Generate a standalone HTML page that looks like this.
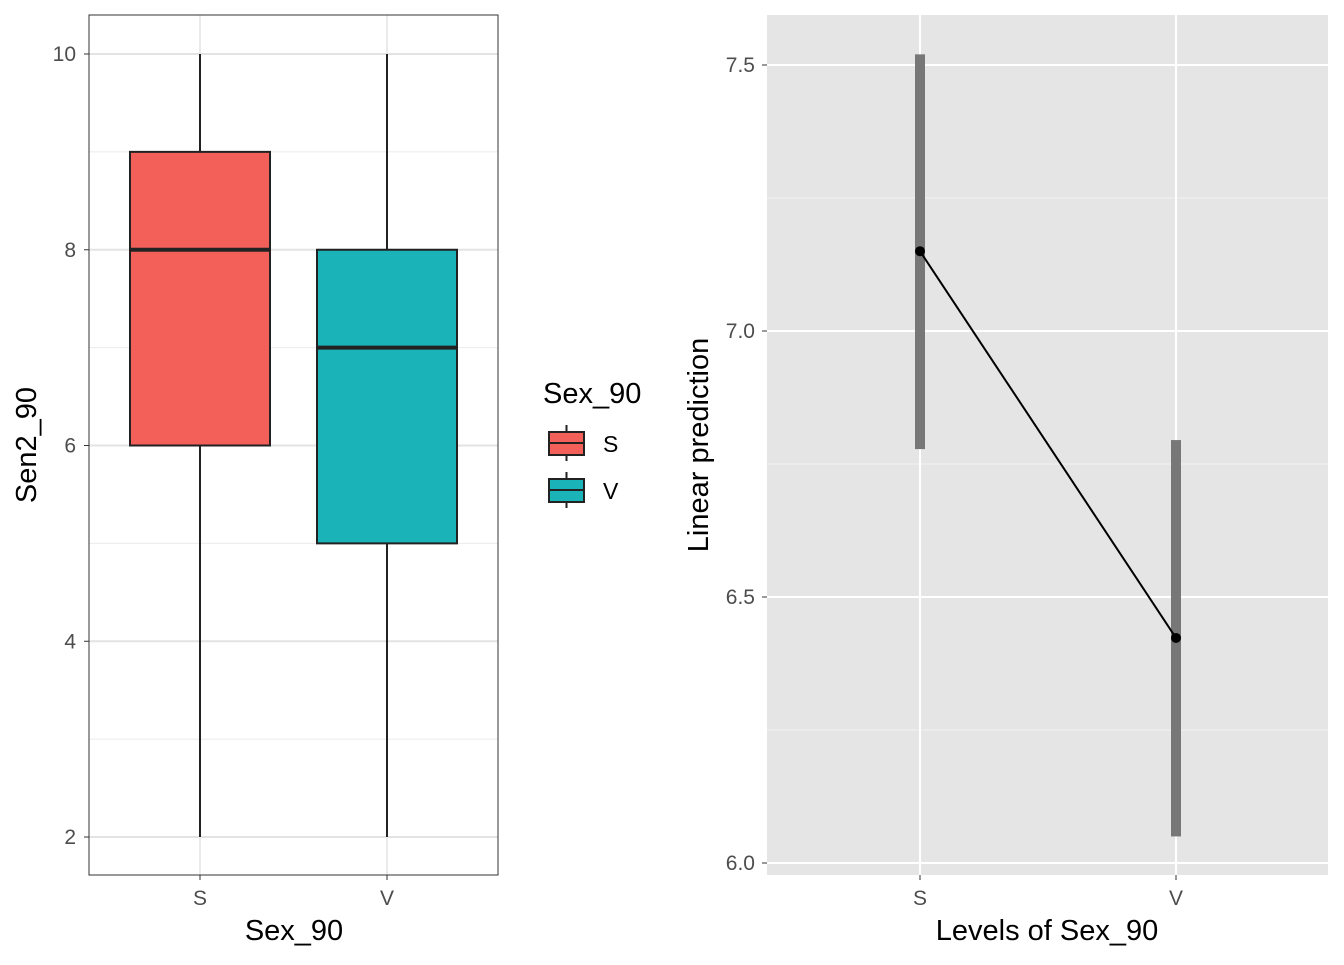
<!DOCTYPE html>
<html><head><meta charset="utf-8"><style>
body{margin:0;background:#fff;font-family:"Liberation Sans",Arial,sans-serif}
</style></head><body>
<svg id="c" width="1344" height="960" xmlns="http://www.w3.org/2000/svg" font-family="Liberation Sans, Arial, sans-serif"></svg>
<script>
const boxCats=["S","V"];
const boxMin=[2,2];
const boxQ1=[6,5];
const boxMed=[8,7];
const boxQ3=[9,8];
const boxMax=[10,10];
const boxFills=["#F3605A","#19B3B8"];
const leftTicks=[2,4,6,8,10];
const predCats=["S","V"];
const predVals=[7.15,6.423];
const predLo=[6.778,6.05];
const predHi=[7.52,6.795];
const rightTicks=[6.0,6.5,7.0,7.5];

const svg=document.getElementById('c');
const NS="http://www.w3.org/2000/svg";
function el(t,a,p){const e=document.createElementNS(NS,t);for(const k in a)e.setAttribute(k,a[k]);(p||svg).appendChild(e);return e;}
function tx(s,a,p){const e=el('text',a,p);e.textContent=s;return e;}

// LEFT PANEL
const L={x0:89,x1:498,y0:15,y1:875};
const ly=v=>54+(10-v)*(837-54)/8;
const lx=i=>200+i*187;
const gL=el('g',{});


el('rect',{x:L.x0,y:L.y0,width:L.x1-L.x0,height:L.y1-L.y0,fill:'#fff'},gL);
for(let v=3;v<=9;v+=2) el('line',{x1:L.x0,x2:L.x1,y1:ly(v),y2:ly(v),stroke:'#ebebeb','stroke-width':1},gL);
leftTicks.forEach(v=>{
 el('line',{x1:L.x0,x2:L.x1,y1:ly(v),y2:ly(v),stroke:'#e3e3e3','stroke-width':2},gL);
 el('line',{x1:L.x0-5,x2:L.x0,y1:ly(v),y2:ly(v),stroke:'#333','stroke-width':1},gL);
 const t=tx(String(v),{x:L.x0-13,y:ly(v)+7,'text-anchor':'end','font-size':21,fill:'#4d4d4d'},gL);
 
 
});
boxCats.forEach((c,i)=>{
 el('line',{x1:lx(i),x2:lx(i),y1:L.y0,y2:L.y1,stroke:'#ebebeb','stroke-width':2},gL);
});
boxCats.forEach((c,i)=>{
 const g=el('g',{},gL);
 
 
 const x=lx(i),hw=70;
 el('line',{x1:x,x2:x,y1:ly(boxMax[i]),y2:ly(boxMin[i]),stroke:'#222','stroke-width':2},g);
 el('rect',{x:x-hw,y:ly(boxQ3[i]),width:2*hw,height:ly(boxQ1[i])-ly(boxQ3[i]),fill:boxFills[i],stroke:'#222','stroke-width':2},g);
 el('line',{x1:x-hw,x2:x+hw,y1:ly(boxMed[i]),y2:ly(boxMed[i]),stroke:'#222','stroke-width':4},g);
 el('line',{x1:x,x2:x,y1:L.y1,y2:L.y1+5,stroke:'#333','stroke-width':1},gL);
 const t=tx(c,{x:x,y:905,'text-anchor':'middle','font-size':21,fill:'#4d4d4d'},gL);
 
 
});
el('rect',{x:L.x0,y:L.y0,width:L.x1-L.x0,height:L.y1-L.y0,fill:'none',stroke:'#333','stroke-width':1},gL);
let t=tx('Sex_90',{x:294,y:940,'text-anchor':'middle','font-size':29,fill:'#000'});

t=tx('Sen2_90',{x:0,y:0,'text-anchor':'middle','font-size':29,fill:'#000',transform:'translate(36,445) rotate(-90)'});


// LEGEND
const lg=el('g',{});


tx('Sex_90',{x:543,y:403,'font-size':29,fill:'#000'},lg);
boxCats.forEach((c,i)=>{
 const g=el('g',{},lg);
 
 
 const cy=443+i*47;
 el('line',{x1:566.5,x2:566.5,y1:cy-18,y2:cy+18,stroke:'#222','stroke-width':2},g);
 el('rect',{x:549,y:cy-11,width:35,height:23,fill:boxFills[i],stroke:'#222','stroke-width':2},g);
 el('line',{x1:549,x2:584,y1:cy,y2:cy,stroke:'#222','stroke-width':2},g);
 tx(c,{x:603,y:cy+9,'font-size':23,fill:'#000'},g);
});

// RIGHT PANEL
const R={x0:767,x1:1328,y0:15,y1:875};
const ry=v=>863-(v-6)*(863-65)/1.5;
const rx=i=>920+i*256;
const gR=el('g',{});


el('rect',{x:R.x0,y:R.y0,width:R.x1-R.x0,height:R.y1-R.y0,fill:'#e5e5e5'},gR);
[6.25,6.75,7.25].forEach(v=>el('line',{x1:R.x0,x2:R.x1,y1:ry(v),y2:ry(v),stroke:'#f2f2f2','stroke-width':1},gR));
rightTicks.forEach(v=>{
 el('line',{x1:R.x0,x2:R.x1,y1:ry(v),y2:ry(v),stroke:'#fff','stroke-width':2},gR);
 el('line',{x1:R.x0-5,x2:R.x0,y1:ry(v),y2:ry(v),stroke:'#333','stroke-width':1},gR);
 const tt=tx(v.toFixed(1),{x:R.x0-12,y:ry(v)+7,'text-anchor':'end','font-size':21,fill:'#4d4d4d'},gR);
 
 
});
predCats.forEach((c,i)=>{
 el('line',{x1:rx(i),x2:rx(i),y1:R.y0,y2:R.y1,stroke:'#fff','stroke-width':2},gR);
 el('line',{x1:rx(i),x2:rx(i),y1:R.y1,y2:R.y1+5,stroke:'#333','stroke-width':1},gR);
 const tt=tx(c,{x:rx(i),y:905,'text-anchor':'middle','font-size':21,fill:'#4d4d4d'},gR);
 
 
});
predCats.forEach((c,i)=>{
 const b=el('rect',{x:rx(i)-5,y:ry(predHi[i]),width:10,height:ry(predLo[i])-ry(predHi[i]),fill:'#777'},gR);
 
 
});
const ln=el('polyline',{points:predCats.map((c,i)=>rx(i)+','+ry(predVals[i])).join(' '),fill:'none',stroke:'#000','stroke-width':2},gR);


predCats.forEach((c,i)=>{
 const p=el('circle',{cx:rx(i),cy:ry(predVals[i]),r:5,fill:'#000'},gR);
 
 
});
t=tx('Levels of Sex_90',{x:1047,y:940,'text-anchor':'middle','font-size':29,fill:'#000'});

t=tx('Linear prediction',{x:0,y:0,'text-anchor':'middle','font-size':29,fill:'#000',transform:'translate(708,445) rotate(-90)'});

</script>
</body></html>
